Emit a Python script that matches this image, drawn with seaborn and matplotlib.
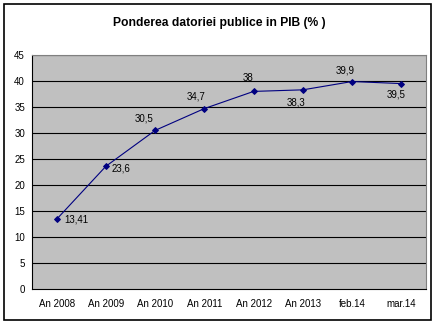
import matplotlib
matplotlib.use("Agg")
import matplotlib.pyplot as plt
import seaborn as sns
import pandas as pd
from matplotlib.patches import Rectangle

categories = ["An 2008", "An 2009", "An 2010", "An 2011", "An 2012", "An 2013", "feb.14", "mar.14"]
values = [13.41, 23.6, 30.5, 34.7, 38, 38.3, 39.9, 39.5]
labels = ["13,41", "23,6", "30,5", "34,7", "38", "38,3", "39,9", "39,5"]
label_offsets = [(8, 0), (6, -2), (-20, 12), (-18, 12), (-11, 13), (-16, -13), (-16, 11), (-15, -11)]
yticks = [0, 5, 10, 15, 20, 25, 30, 35, 40, 45]
title = "Ponderea datoriei publice in PIB (% )"

sns.set_style("white")
plt.rcParams['font.family'] = ['Liberation Sans', 'DejaVu Sans']
plt.rcParams['text.color'] = 'black'
plt.rcParams['xtick.color'] = 'black'
plt.rcParams['ytick.color'] = 'black'

df = pd.DataFrame({"idx": range(len(categories)), "val": values})

fig = plt.figure(figsize=(4.38, 3.26), dpi=100)
fig.patch.set_facecolor("white")
fig.patches.append(Rectangle((4/438, 6/326), 427/438, 316/326, transform=fig.transFigure,
                             fill=False, edgecolor="black", linewidth=1.2))
ax = fig.add_axes([32/438, 37/326, 394/438, 234/326])
ax.set_facecolor("#C0C0C0")

sns.lineplot(data=df, x="idx", y="val", ax=ax, color="#000080", linewidth=0.8,
             marker="D", markersize=3, markeredgecolor="#000080", markerfacecolor="#000080")

for i, (v, lab) in enumerate(zip(values, labels)):
    dx, dy = label_offsets[i]
    ax.annotate(lab, (i, v), xytext=(dx, dy), textcoords="offset pixels",
                fontsize=7, color="black", va="center", ha="left")

ax.set_xlim(-0.5, len(categories) - 0.5)
ax.set_ylim(0, 45)
ax.set_yticks(yticks)
ax.set_yticklabels([str(t) for t in yticks], fontsize=7)
for t in yticks[1:]:
    ax.axhline(t, color="black", linewidth=0.8, zorder=0.5)

ax.set_xticks([i - 0.5 for i in range(len(categories) + 1)])
ax.set_xticklabels([])
ax.set_xticks(list(range(len(categories))), minor=True)
ax.set_xticklabels(categories, minor=True, fontsize=7)
ax.tick_params(axis="x", which="minor", length=0, pad=7)
ax.tick_params(axis="x", which="major", length=3, width=0.8, direction="out", color="black")
ax.tick_params(axis="y", length=3, width=0.8, direction="out", color="black", pad=2)
ax.set_xlabel("")
ax.set_ylabel("")

for s in ["left", "bottom"]:
    ax.spines[s].set_color("black")
    ax.spines[s].set_linewidth(0.8)
for s in ["top", "right"]:
    ax.spines[s].set_color("#808080")
    ax.spines[s].set_linewidth(0.8)

fig.text(219/438, 1 - 23/326, title, ha="center", va="center", fontsize=8.7,
         fontweight="bold", color="black")

fig.savefig("out.png", dpi=100)
